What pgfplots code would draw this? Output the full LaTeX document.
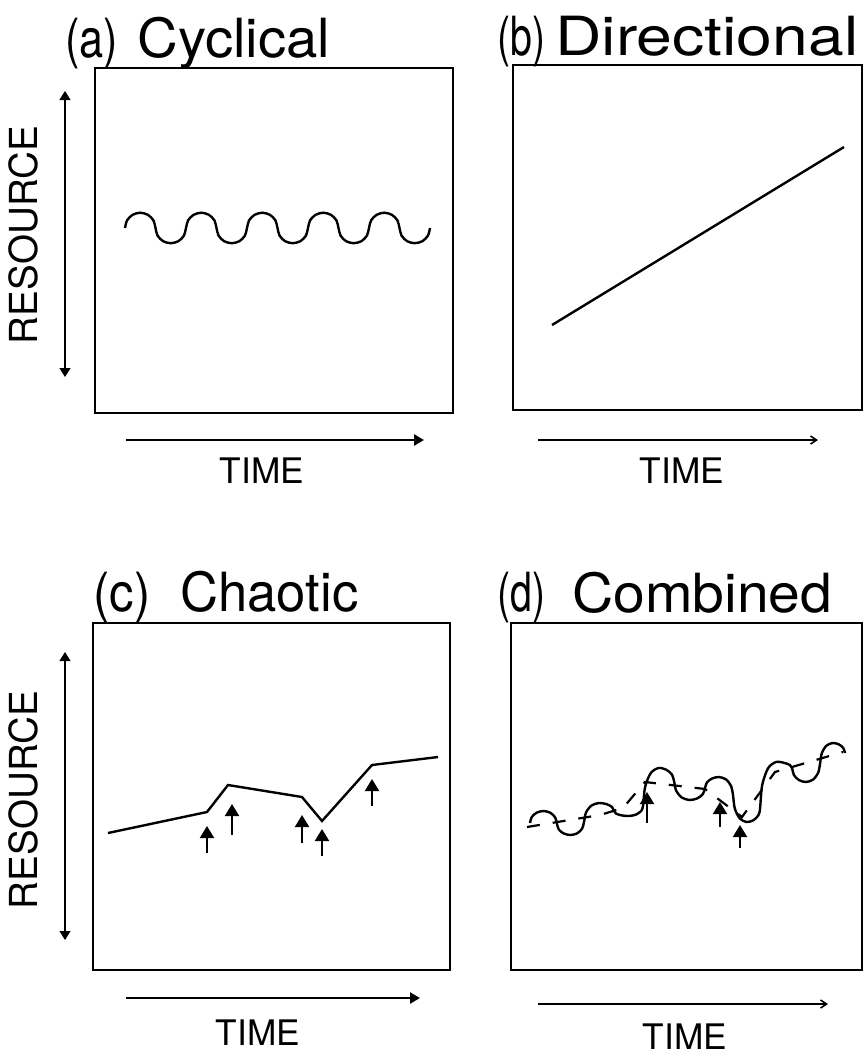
\documentclass[border=0pt]{standalone}
\usepackage{fontspec}
\setmainfont{TeX Gyre Heros}
\usepackage{graphicx}
\usepackage{pgfplots}
\pgfplotsset{compat=1.18}
\usetikzlibrary{arrows.meta}

\pgfplotsset{
  panel/.style={scale only axis, ticks=none, clip=false,
    axis line style={line width=1.1pt}, xmin=0, ymin=0},
  curve/.style={black, line width=1.2pt},
  up arrow/.style={black, line width=1pt, -{Triangle[width=7pt,length=6pt]}},
}
% title word squeezed or stretched to the width it has in the figure
\newcommand{\ttl}[2]{\resizebox{#1}{\height}{#2}}

\begin{document}
\begin{tikzpicture}
\path[use as bounding box] (0pt,0pt) rectangle (431.5pt,-527.5pt);

% (a) cyclical
\begin{axis}[panel, at={(47.5pt,-206.5pt)}, anchor=south west,
  width=179pt, height=172.5pt, xmax=358, ymax=345]
\addplot[curve, smooth] coordinates {
 (30,185) (32.04,192.6) (37.62,198.2) (45.25,200.3) (52.88,198.2) (58.46,192.6) (60.5,185)
 (62.54,177.4) (68.12,171.8) (75.75,169.8) (83.38,171.8) (88.96,177.4) (91,185)
 (93.04,192.6) (98.62,198.2) (106.25,200.3) (113.88,198.2) (119.46,192.6) (121.5,185)
 (123.54,177.4) (129.12,171.8) (136.75,169.8) (144.38,171.8) (149.96,177.4) (152,185)
 (154.04,192.6) (159.62,198.2) (167.25,200.3) (174.88,198.2) (180.46,192.6) (182.5,185)
 (184.54,177.4) (190.12,171.8) (197.75,169.8) (205.38,171.8) (210.96,177.4) (213,185)
 (215.04,192.6) (220.62,198.2) (228.25,200.3) (235.88,198.2) (241.46,192.6) (243.5,185)
 (245.54,177.4) (251.12,171.8) (258.75,169.8) (266.38,171.8) (271.96,177.4) (274,185)
 (276.04,192.6) (281.62,198.2) (289.25,200.3) (296.88,198.2) (302.46,192.6) (304.5,185)
 (306.54,177.4) (312.12,171.8) (319.75,169.8) (327.38,171.8) (332.96,177.4) (335,185)};
\end{axis}

% (b) directional
\begin{axis}[panel, at={(256.5pt,-205pt)}, anchor=south west,
  width=174.5pt, height=172.5pt, xmax=349, ymax=345]
\addplot[curve] coordinates {(39,85) (331,263)};
\end{axis}

% (c) chaotic
\begin{axis}[panel, at={(46.5pt,-485pt)}, anchor=south west,
  width=178.5pt, height=173.5pt, xmax=357, ymax=347]
\addplot[curve] coordinates {(15,137) (114,158) (135,185) (209,173) (229,149) (279,205) (345,213)};
\addplot[up arrow] coordinates {(114,117) (114,144)};
\addplot[up arrow] coordinates {(139,135) (139,166)};
\addplot[up arrow] coordinates {(209,127) (209,155)};
\addplot[up arrow] coordinates {(229,114) (229,141)};
\addplot[up arrow] coordinates {(279,164) (279,191)};
\end{axis}

% (d) combined
\begin{axis}[panel, at={(255.5pt,-485pt)}, anchor=south west,
  width=175.5pt, height=173.5pt, xmax=351, ymax=347]
\addplot[black, line width=1.1pt, dash pattern=on 6.5pt off 6.5pt] coordinates {
 (16,143) (89,155) (112,162) (134,188) (194,181) (231,153) (264,198) (332,218)};
\addplot[curve, smooth] coordinates {
 (19,147) (20.8,153) (25.75,157.4) (32.5,159) (39.25,157.3) (44.2,152.5) (46,146)
 (47.8,140.5) (52.75,136.5) (59.5,135) (66.25,136.7) (71.2,141.5) (73,148)
 (75,157.5) (80.5,164.5) (88,167) (95.5,165.9) (101,163) (103,159)
 (104.9,156.5) (110.25,154.7) (117.5,154) (124.75,155.3) (130.1,159) (132,164)
 (134.1,183) (139.75,196.9) (147.5,202) (155.25,200.3) (160.9,195.5) (163,189)
 (165.1,179.5) (170.75,172.5) (178.5,170) (186.25,171.6) (191.9,176) (194,182)
 (195.9,187.5) (201,191.5) (208,193) (215,190.6) (220.1,184) (222,175)
 (223.8,161.5) (228.75,151.6) (235.5,148) (242.25,149.7) (247.2,154.5) (249,161)
 (251.1,184.5) (257,201.7) (265,208) (273,207.2) (278.9,205) (281,202)
 (282.9,195) (288,189.9) (295,188) (302,190.4) (307.1,197) (309,206)
 (310.7,216.5) (315.25,224.2) (321.5,227) (327.75,225.7) (332.3,222) (334,217)};
\addplot[up arrow] coordinates {(136,147) (136,178)};
\addplot[up arrow] coordinates {(209,143) (209,168)};
\addplot[up arrow] coordinates {(229,122) (229,145)};
\end{axis}

% titles, axis arrows and labels (pixel units, y downward)
\begin{scope}[x=0.5pt, y=-0.5pt, every node/.style={inner sep=0pt}]
\tikzset{title/.style={anchor=base west, font=\fontsize{27}{30}\selectfont}}
\node[title] at (65,57) {\ttl{26.5pt}{(a)}};
\node[title] at (137,57) {\ttl{96.5pt}{Cyclical}};
\node[title] at (497,55) {\ttl{24pt}{(b)}};
\node[title] at (555,55) {\ttl{151.5pt}{Directional}};
\node[title] at (93,611) {\ttl{28.5pt}{(c)}};
\node[title] at (180,611) {\ttl{89pt}{Chaotic}};
\node[title] at (497,611) {\ttl{24pt}{(d)}};
\node[title] at (572,612) {\ttl{130pt}{Combined}};

\draw[line width=0.6pt, {Triangle[width=5.5pt,length=4.5pt]}-{Triangle[width=5.5pt,length=4.5pt]}] (65,91) -- (65,377);
\draw[line width=0.6pt, {Triangle[width=5.5pt,length=4.5pt]}-{Triangle[width=5.5pt,length=4.5pt]}] (65,652) -- (65,940);
\node[rotate=90, font=\fontsize{19.3}{21}\selectfont] at (23,235) {RESOURCE};
\node[rotate=90, font=\fontsize{19.3}{21}\selectfont] at (23,800) {RESOURCE};

\draw[line width=0.9pt] (126,440) -- (366,440);
\draw[line width=1.2pt, -{Triangle[width=5.5pt,length=5pt]}] (366,440) -- (424,440);
\draw[line width=0.8pt, -{Straight Barb[width=4pt,length=3pt]}] (538,440) -- (818,440);
\draw[line width=1.1pt, -{Triangle[width=5.5pt,length=5pt]}] (126,998) -- (420,998);
\draw[line width=0.8pt, -{Straight Barb[width=4pt,length=3pt]}] (538,1004) -- (828,1004);

\tikzset{tlab/.style={font=\fontsize{17.6}{19}\selectfont}}
\node[tlab] at (262,471) {TIME};
\node[tlab] at (682,471) {TIME};
\node[tlab] at (258,1033) {TIME};
\node[tlab] at (685,1037) {TIME};
\end{scope}
\end{tikzpicture}
\end{document}
